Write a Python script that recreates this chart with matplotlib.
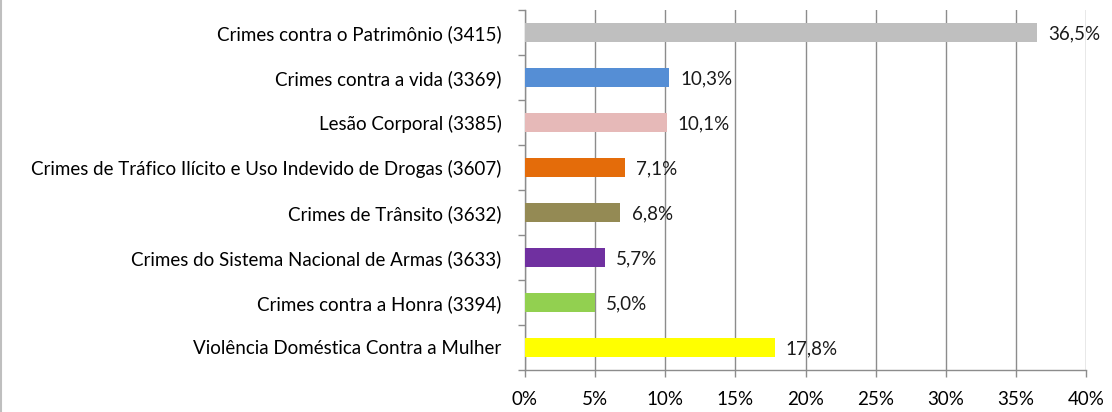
import numpy as np
import matplotlib
matplotlib.use('Agg')
import matplotlib.pyplot as plt
from matplotlib.lines import Line2D

categories = [
    'Crimes contra o Patrimônio (3415)',
    'Crimes contra a vida (3369)',
    'Lesão Corporal (3385)',
    'Crimes de Tráfico Ilícito e Uso Indevido de Drogas (3607)',
    'Crimes de Trânsito (3632)',
    'Crimes do Sistema Nacional de Armas (3633)',
    'Crimes contra a Honra (3394)',
    'Violência Doméstica Contra a Mulher',
]
values = [36.5, 10.3, 10.1, 7.1, 6.8, 5.7, 5.0, 17.8]
value_labels = ['36,5%', '10,3%', '10,1%', '7,1%', '6,8%', '5,7%', '5,0%', '17,8%']
colors = ['#BFBFBF', '#558ED5', '#E6B9B8', '#E46C0A',
          '#948A54', '#7030A0', '#92D050', '#FFFF00']
xticks = [0, 5, 10, 15, 20, 25, 30, 35, 40]

plt.rcParams['font.family'] = ['Lato', 'DejaVu Sans']
grid_col = '#8C8C8C'

fig = plt.figure(figsize=(11.12, 4.12), dpi=100)
ax = fig.add_axes([525 / 1112, 1 - 370 / 412, 561 / 1112, 360 / 412])

n = len(categories)
ypos = np.arange(n)
ax.barh(ypos, values, height=0.44, color=colors, zorder=3)
for y, v, lab in zip(ypos, values, value_labels):
    ax.text(v + 0.8, y + 0.03, lab, va='center', ha='left', fontsize=13.5,
            color='#1a1a1a', zorder=4)

ax.set_xlim(0, 40)
ax.set_ylim(n - 0.5, -0.5)
ax.set_xticks(xticks)
ax.set_xticklabels([f'{t}%' for t in xticks], fontsize=13.5)
ax.xaxis.grid(True, color=grid_col, lw=1.0, zorder=0)

# category labels without ticks; boundary ticks as minor
ax.set_yticks(ypos)
ax.set_yticklabels(categories, fontsize=13.5)
ax.tick_params(axis='y', which='major', length=0, pad=17)
ax.set_yticks(np.arange(-0.5, n, 1.0), minor=True)
ax.tick_params(axis='y', which='minor', length=5, color=grid_col, width=1)
ax.tick_params(axis='x', length=5, color=grid_col, width=1, pad=10)

for side in ('top', 'right'):
    ax.spines[side].set_visible(False)
for side in ('left', 'bottom'):
    ax.spines[side].set_color(grid_col)
    ax.spines[side].set_linewidth(1.0)

# outer chart frame (only left edge visible in the crop)
fig.add_artist(Line2D([0.001, 0.001], [0, 1], color='#BFBFBF', lw=1.5,
                      transform=fig.transFigure))

fig.savefig('out.png', dpi=100)
